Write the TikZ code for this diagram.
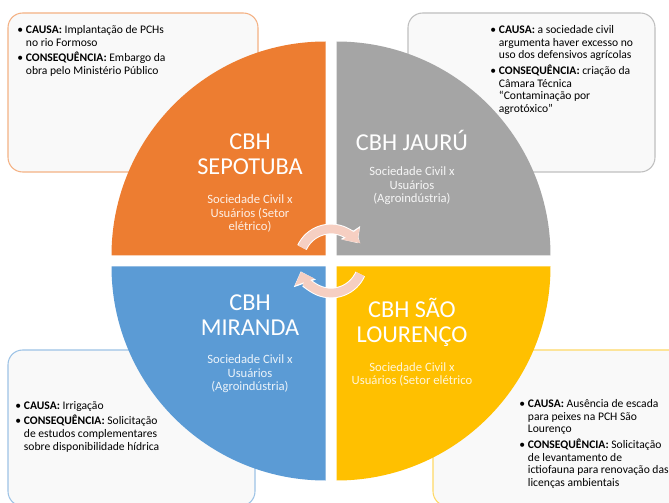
\documentclass[tikz,border=0pt]{standalone}
\usepackage{fontspec}
\setmainfont{Carlito}
\usetikzlibrary{arrows.meta}

\definecolor{laranja}{HTML}{ED7D31}
\definecolor{cinza}{HTML}{A5A5A5}
\definecolor{azul}{HTML}{5B9BD5}
\definecolor{amarelo}{HTML}{FFC000}
\definecolor{bordalaranja}{HTML}{F4B183}
\definecolor{bordacinza}{HTML}{BFBFBF}
\definecolor{bordaazul}{HTML}{9DC3E6}
\definecolor{bordaamarelo}{HTML}{FFD966}
\definecolor{fundocaixa}{HTML}{F9F9F9}
\definecolor{seta}{HTML}{F6CFC2}

% marcador e recuo das listas
\newcommand{\marca}{\makebox[6.5pt][l]{\textbullet}}
\newcommand{\recuo}{\hspace*{6.5pt}}

\tikzset{
  caixa/.style={fill=fundocaixa, draw=#1, line width=0.8pt, rounded corners=11pt},
  lista/.style={anchor=north west, inner sep=0pt, align=left,
    font=\fontsize{8.7}{9.6}\selectfont},
  titulo/.style={text=white, align=center, inner sep=0pt,
    font=\fontsize{18.2}{18.8}\selectfont},
  subtitulo/.style={text=#1, align=center, inner sep=0pt,
    font=\fontsize{9.5}{10.2}\selectfont},
  girar/.style={line width=6.5pt, draw=seta, -{Triangle[width=15pt,length=8pt]}},
  contorno/.style={line width=8pt, draw=white, -{Triangle[width=17pt,length=9.5pt]}},
}

\begin{document}
\begin{tikzpicture}[x=0.75pt, y=-0.75pt]
\clip (0,0) rectangle (669,503);
\fill[white] (0,0) rectangle (669,503);

% caixas de causa e consequencia
\draw[caixa=bordalaranja] (8,13) rectangle (258,172);
\draw[caixa=bordacinza] (408,13) rectangle (655,172);
\draw[caixa=bordaazul] (8,350) rectangle (255,506);
\draw[caixa=bordaamarelo] (433,350) rectangle (690,506);

% quadrantes
\fill[laranja] (325.5,255.5) -- ++(-214,0) arc[start angle=180, end angle=270, radius=214] -- cycle;
\fill[cinza] (336.5,255.5) -- ++(0,-214) arc[start angle=270, end angle=360, radius=214] -- cycle;
\fill[azul] (325.5,266.5) -- ++(-214,0) arc[start angle=180, end angle=90, radius=214] -- cycle;
\fill[amarelo] (336.5,266.5) -- ++(214,0) arc[start angle=0, end angle=90, radius=214] -- cycle;

% nomes dos comites
\node[titulo] (sepotuba) at (250,154.5) {CBH\\SEPOTUBA};
\node[subtitulo=white!88!laranja] (sepotubasub) at (250,213.5) {Sociedade Civil x\\Usuários (Setor\\elétrico)};
\node[titulo] (jauru) at (412,140) {CBH JAURÚ};
\node[subtitulo=white!90!cinza] (jaurusub) at (412,186) {Sociedade Civil x\\Usuários\\(Agroindústria)};
\node[titulo] (miranda) at (250,315) {CBH\\MIRANDA};
\node[subtitulo=white!88!azul] (mirandasub) at (250,374) {Sociedade Civil x\\Usuários\\(Agroindústria)};
\node[titulo] (saolourenco) at (412,322.5) {CBH SÃO\\LOURENÇO};
\node[subtitulo=white!85!amarelo] (saolourencosub) at (412,374.5) {Sociedade Civil x\\Usuários (Setor elétrico};

% textos das caixas
\node[lista] (listasepotuba) at (17,25) {%
\marca\textbf{CAUSA:} Implantação de PCHs\\
\recuo no rio Formoso\\[2pt]
\marca\textbf{CONSEQUÊNCIA:} Embargo da\\
\recuo obra pelo Ministério Público};
\node[lista] (listajauru) at (490,25) {%
\marca\textbf{CAUSA:} a sociedade civil\\
\recuo argumenta haver excesso no\\
\recuo uso dos defensivos agrícolas\\[2pt]
\marca\textbf{CONSEQUÊNCIA:} criação da\\
\recuo Câmara Técnica\\
\recuo “Contaminação por\\
\recuo agrotóxico”};
\node[lista] (listamiranda) at (15,401) {%
\marca\textbf{CAUSA:} Irrigação\\[2pt]
\marca\textbf{CONSEQUÊNCIA:} Solicitação\\
\recuo de estudos complementares\\
\recuo sobre disponibilidade hídrica};
\node[lista] (listasaolourenco) at (519,399) {%
\marca\textbf{CAUSA:} Ausência de escada\\
\recuo para peixes na PCH São\\
\recuo Lourenço\\[2pt]
\marca\textbf{CONSEQUÊNCIA:} Solicitação\\
\recuo de levantamento de\\
\recuo ictiofauna para renovação das\\
\recuo licenças ambientais};

% setas do ciclo, com contorno branco
\coordinate (centro) at (331,261);
\draw[contorno] (centro) ++(205:32) arc[start angle=205, end angle=326, radius=32];
\draw[girar] (centro) ++(205:32) arc[start angle=205, end angle=325, radius=32];
\draw[contorno] (centro) ++(24:32) arc[start angle=24, end angle=161, radius=32];
\draw[girar] (centro) ++(24:32) arc[start angle=24, end angle=160, radius=32];
\end{tikzpicture}
\end{document}
